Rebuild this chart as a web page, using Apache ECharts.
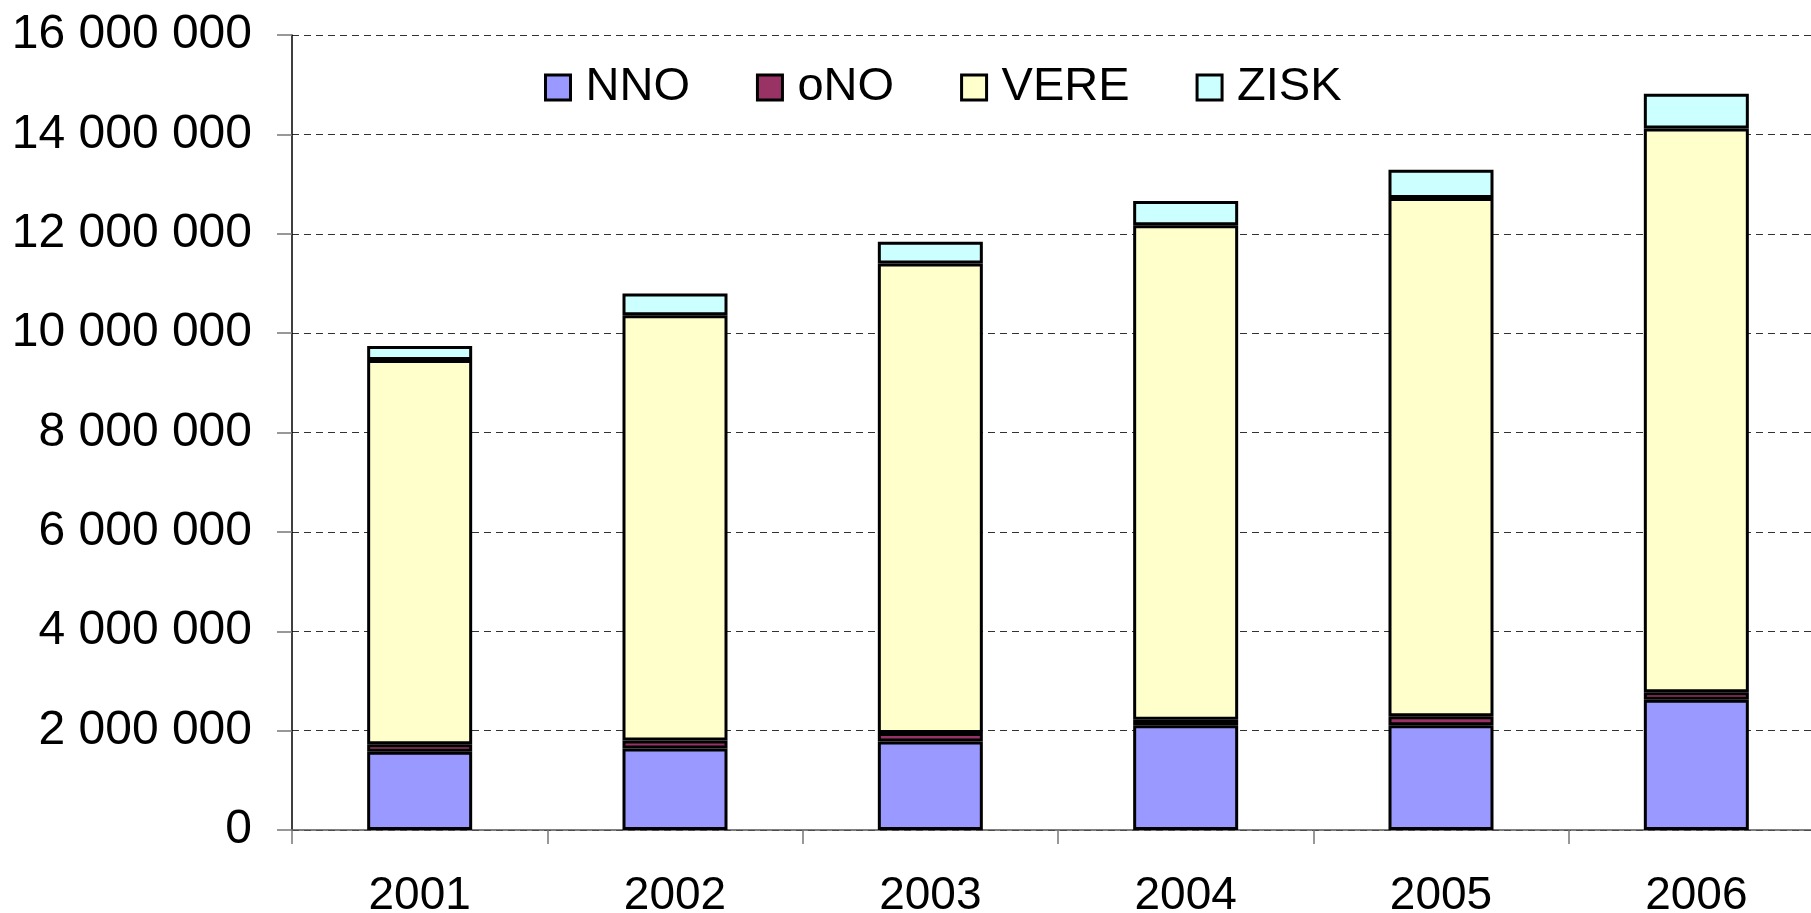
<!DOCTYPE html>
<html>
<head>
<meta charset="utf-8">
<script src="https://cdn.jsdelivr.net/npm/echarts@6/dist/echarts.min.js"></script>
<style>
  html, body { margin: 0; padding: 0; background: #fff; overflow: hidden; }
  #main { width: 1811px; height: 913px; }
</style>
</head>
<body>
<div id="main"></div>
<script>
var years = ['2001', '2002', '2003', '2004', '2005', '2006'];
var nno = [1575000, 1640000, 1780000, 2110000, 2110000, 2620000];
var ono = [150000, 160000, 170000, 110000, 180000, 150000];
var vere = [7735000, 8560000, 9450000, 9950000, 10430000, 11350000];
var zisk = [280000, 440000, 440000, 490000, 570000, 700000];

var dom = document.getElementById('main');
var myChart = echarts.init(dom);

function fmt(v) {
    return String(v).replace(/\B(?=(\d{3})+(?!\d))/g, ' ');
}

function bar(name, data, color) {
    return {
        name: name,
        type: 'bar',
        stack: 'total',
        barWidth: 105,
        data: data,
        itemStyle: {
            color: color,
            borderColor: '#000',
            borderWidth: 3
        }
    };
}

var option = {
    animation: false,
    textStyle: {
        fontFamily: 'Liberation Sans, Arial, sans-serif',
        color: '#000'
    },
    grid: {
        left: 292,
        top: 35,
        width: 1532,
        height: 795,
        outerBoundsMode: 'none',
        containLabel: false
    },
    legend: {
        left: 539,
        top: 59,
        itemWidth: 25,
        itemHeight: 25,
        itemGap: 66,
        icon: 'rect',
        itemStyle: {
            borderColor: '#000',
            borderWidth: 3
        },
        textStyle: {
            fontSize: 47,
            color: '#000',
            padding: [0, 0, 0, 10]
        },
        data: ['NNO', 'oNO', 'VERE', 'ZISK']
    },
    xAxis: {
        type: 'category',
        data: years,
        axisLine: { lineStyle: { color: '#555', width: 1.5 } },
        axisTick: { show: true, length: 14, lineStyle: { color: '#777', width: 1.5 } },
        axisLabel: { fontSize: 46, color: '#000', margin: 43 }
    },
    yAxis: {
        type: 'value',
        min: 0,
        max: 16000000,
        interval: 2000000,
        axisLine: { show: true, lineStyle: { color: '#000', width: 1.5 } },
        axisTick: { show: true, length: 15, lineStyle: { color: '#777', width: 1.5 } },
        axisLabel: {
            fontSize: 48,
            color: '#000',
            margin: 40,
            formatter: fmt
        },
        splitLine: {
            show: true,
            lineStyle: { color: '#333', type: [7, 5], width: 1 }
        }
    },
    series: [
        bar('NNO', nno, '#9999FF'),
        bar('oNO', ono, '#993366'),
        bar('VERE', vere, '#FFFFCC'),
        bar('ZISK', zisk, '#CCFFFF')
    ]
};

myChart.setOption(option, true);
</script>
</body>
</html>
